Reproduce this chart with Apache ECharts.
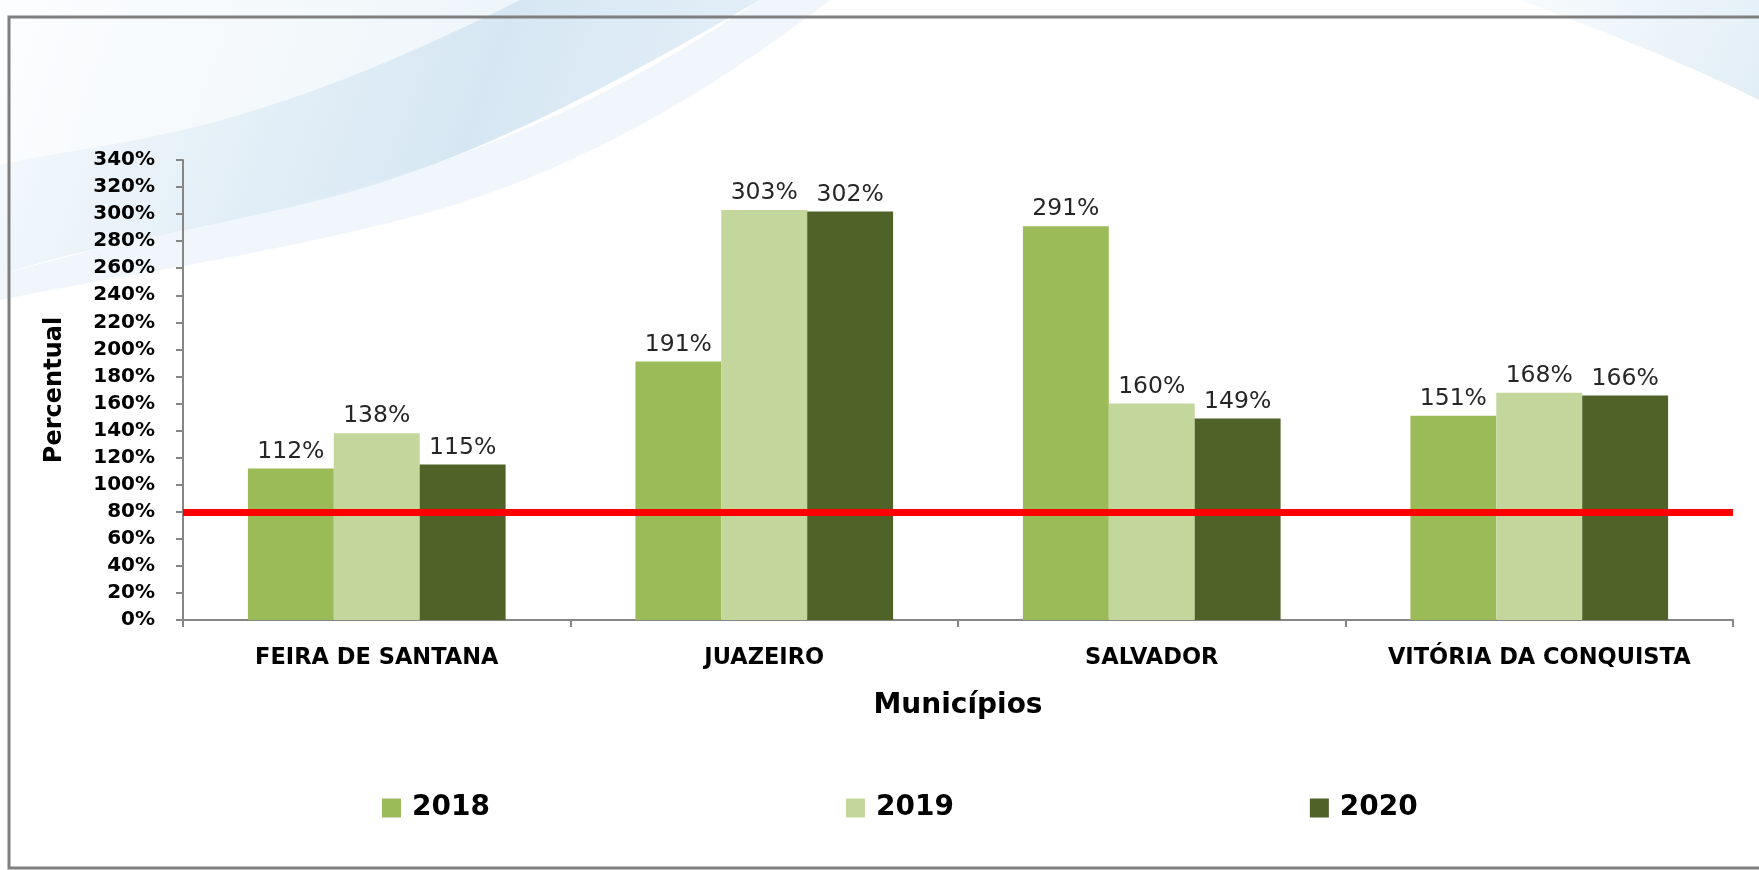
<!DOCTYPE html>
<html>
<head>
<meta charset="utf-8">
<title>Percentual por município</title>
<script src="https://cdn.jsdelivr.net/npm/echarts@6/dist/echarts.min.js"></script>
<style>
  html, body { margin: 0; padding: 0; background: #fff; }
  #chart { width: 1759px; height: 870px; }
</style>
</head>
<body>
<div id="chart"></div>
<script>
// dados
const municipios = ['FEIRA DE SANTANA', 'JUAZEIRO', 'SALVADOR', 'VITÓRIA DA CONQUISTA']
const anos = ['2018', '2019', '2020']
const valores2018 = [112, 191, 291, 151]
const valores2019 = [138, 303, 160, 168]
const valores2020 = [115, 302, 149, 166]
const meta = 80

const cores = ['#9BBB59', '#C3D69B', '#4F6228']
const fonte = 'DejaVu Sans'

const chart = echarts.init(document.getElementById('chart'))

const gradiente = (stops) => ({
  type: 'linear', x: 0, y: 0, x2: 1, y2: 1,
  colorStops: stops
})

// curva bezier cubica -> lista de pontos (so para o fundo decorativo)
const curva = (p0, p1, p2, p3) => {
  const pts = []
  for (let i = 0; i <= 24; i++) {
    const t = i / 24, u = 1 - t
    pts.push([
      u * u * u * p0[0] + 3 * u * u * t * p1[0] + 3 * u * t * t * p2[0] + t * t * t * p3[0],
      u * u * u * p0[1] + 3 * u * u * t * p1[1] + 3 * u * t * t * p2[1] + t * t * t * p3[1]
    ])
  }
  return pts
}

const faixa1 = [[0, 0], ...curva([760, 0], [620, 80], [480, 160], [320, 200]), ...curva([320, 200], [200, 230], [90, 245], [0, 275])]
const faixa2 = [[0, 0], ...curva([520, 0], [400, 60], [280, 110], [160, 135]), ...curva([160, 135], [100, 148], [40, 155], [0, 165])]
const faixa3 = [...curva([0, 275], [120, 240], [260, 215], [380, 180]), ...curva([380, 180], [520, 140], [640, 80], [760, 0]),
  ...curva([830, 0], [700, 100], [560, 180], [400, 220]), ...curva([400, 220], [250, 258], [120, 275], [0, 300])]
const faixa4 = [[1520, 0], [1759, 0], [1759, 100], ...curva([1759, 100], [1690, 65], [1600, 30], [1520, 0])]

// serie de barras
const barra = (nome, dados, cor) => ({
  name: nome,
  type: 'bar',
  data: dados,
  barGap: '0%',
  barCategoryGap: '33.5%',
  itemStyle: { color: cor },
  label: {
    show: true,
    position: 'top',
    distance: 5,
    formatter: '{c}%',
    fontFamily: fonte,
    fontSize: 23.5,
    color: '#262626'
  }
})

const option = {
  animation: false,
  backgroundColor: '#ffffff',
  // fundo do slide (faixas azuis) e moldura
  graphic: [
    {
      type: 'polygon', z: -10, silent: true,
      shape: { points: faixa1 },
      style: {
        fill: gradiente([
          { offset: 0, color: 'rgb(246,250,253)' },
          { offset: 0.6, color: 'rgb(214,231,243)' },
          { offset: 1, color: 'rgb(232,241,249)' }
        ])
      }
    },
    {
      type: 'polygon', z: -9, silent: true,
      shape: { points: faixa2 },
      style: { fill: 'rgba(255,255,255,0.6)' }
    },
    {
      type: 'polygon', z: -9, silent: true,
      shape: { points: faixa3 },
      style: { fill: 'rgba(225,238,247,0.5)' }
    },
    {
      type: 'polygon', z: -10, silent: true,
      shape: { points: faixa4 },
      style: {
        fill: gradiente([
          { offset: 0, color: 'rgb(248,251,253)' },
          { offset: 1, color: 'rgb(226,238,247)' }
        ])
      }
    },
    {
      type: 'rect', z: -5, silent: true,
      shape: { x: 9, y: 17, width: 1780, height: 851 },
      style: { fill: 'transparent', stroke: '#7f7f7f', lineWidth: 3 }
    }
  ],
  grid: { left: 183, right: 26, top: 160, bottom: 250 },
  legend: {
    data: anos,
    left: 377,
    top: 789,
    itemGap: 356,
    itemWidth: 19,
    itemHeight: 19,
    icon: 'rect',
    textStyle: { fontFamily: fonte, fontSize: 28, fontWeight: 'bold', color: '#000', padding: [0, 0, 0, 6] }
  },
  xAxis: {
    type: 'category',
    data: municipios,
    name: 'Municípios',
    nameLocation: 'middle',
    nameGap: 72,
    nameTextStyle: { fontFamily: fonte, fontSize: 28, fontWeight: 'bold', color: '#000' },
    axisLine: { lineStyle: { color: '#868686', width: 2 } },
    axisTick: { show: true, length: 7, lineStyle: { color: '#868686', width: 2 } },
    axisLabel: { interval: 0, margin: 27, fontFamily: fonte, fontSize: 22.5, fontWeight: 'bold', color: '#000' }
  },
  yAxis: {
    type: 'value',
    min: 0,
    max: 340,
    interval: 20,
    name: 'Percentual',
    nameLocation: 'middle',
    nameGap: 116,
    nameRotate: 90,
    nameTextStyle: { fontFamily: fonte, fontSize: 24, fontWeight: 'bold', color: '#000' },
    axisLine: { show: true, lineStyle: { color: '#868686', width: 2 } },
    axisTick: { show: true, length: 7, lineStyle: { color: '#868686', width: 2 } },
    splitLine: { show: false },
    axisLabel: { margin: 28, formatter: '{value}%', fontFamily: fonte, fontSize: 20, fontWeight: 'bold', color: '#000' }
  },
  series: [
    barra('2018', valores2018, cores[0]),
    barra('2019', valores2019, cores[1]),
    barra('2020', valores2020, cores[2]),
    {
      name: 'meta',
      type: 'line',
      data: [],
      z: 5,
      markLine: {
        silent: true,
        symbol: 'none',
        label: { show: false },
        lineStyle: { color: '#FF0000', width: 7, type: 'solid' },
        data: [{ yAxis: meta }]
      }
    }
  ]
}

chart.setOption(option)
</script>
</body>
</html>
